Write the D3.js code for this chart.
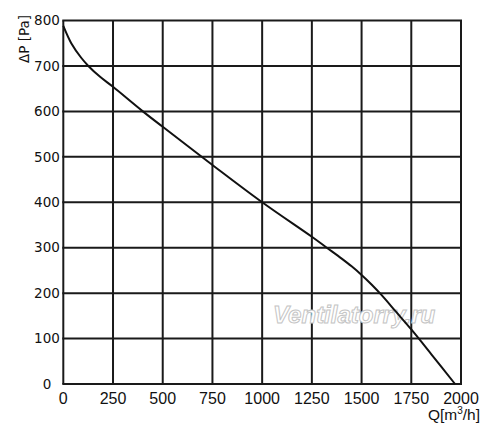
<!DOCTYPE html>
<html><head><meta charset="utf-8">
<script src="https://cdn.jsdelivr.net/npm/d3@7"></script>
<style>body{margin:0;background:#fff}</style>
</head><body>
<svg id="c" width="500" height="438"></svg>
<script>
const qTicks = [0,250,500,750,1000,1250,1500,1750,2000];
const pTicks = [0,100,200,300,400,500,600,700,800];
const flowQ = [0,40,90,126,185,250,400,500,750,1000,1250,1325,1400,1450,1500,1550,1600,1675,1750,1850,1970];
const pressureP = [788,750,718,700,676,654,600,566,482,400,324,300,276,259,240,219,196,158,120,66,0];

const svg = d3.select("#c");
const x = d3.scaleLinear().domain([0,2000]).range([63.3,461]);
const y = d3.scaleLinear().domain([0,800]).range([384,20.5]);
const grid = svg.append("g").attr("stroke","#1a1a1a").attr("stroke-width",2);
grid.selectAll("line.v").data(qTicks).join("line")
  .attr("x1",d=>x(d)).attr("x2",d=>x(d)).attr("y1",y(0)).attr("y2",y(800));
grid.selectAll("line.h").data(pTicks).join("line")
  .attr("y1",d=>y(d)).attr("y2",d=>y(d)).attr("x1",x(0)-1).attr("x2",x(2000)+1);

svg.append("g").selectAll("text").data(pTicks).join("text")
  .attr("x",47).attr("y",d=>y(d)+4.8).attr("text-anchor","middle")
  .attr("font-family","DejaVu Sans").attr("font-size",13.5).attr("fill","#111")
  .text(d=>d);
svg.append("g").selectAll("text").data(qTicks).join("text")
  .attr("x",d=>x(d)).attr("y",403.5).attr("text-anchor","middle")
  .attr("font-family","Liberation Sans").attr("font-size",16).attr("fill","#111")
  .text(d=>d);

svg.append("text").attr("transform","translate(29,39) rotate(-90)")
  .attr("text-anchor","middle").attr("font-family","DejaVu Sans").attr("font-size",13.5)
  .attr("fill","#111").text("ΔP [Pa]");
const ql = svg.append("text").attr("x",480).attr("y",420).attr("text-anchor","end")
  .attr("font-family","Liberation Sans").attr("font-size",15.5).attr("fill","#111");
ql.append("tspan").text("Q[m");
ql.append("tspan").attr("font-size",10).attr("dy",-6).text("3");
ql.append("tspan").attr("dy",6).text("/h]");

svg.append("text").attr("x",273).attr("y",323)
  .attr("font-family","Liberation Sans").attr("font-size",24).attr("font-weight","bold")
  .attr("font-style","italic").attr("fill","#fff").attr("stroke","#c4c4c4").attr("stroke-width",1)
  .text("Ventilatorry.ru");

const pts = flowQ.map((q,i)=>[q,pressureP[i]]);
svg.append("path").datum(pts)
  .attr("d",d3.line().x(d=>x(d[0])).y(d=>y(d[1])).curve(d3.curveCatmullRom.alpha(0.5)))
  .attr("fill","none").attr("stroke","#111").attr("stroke-width",2);
</script>
</body></html>
